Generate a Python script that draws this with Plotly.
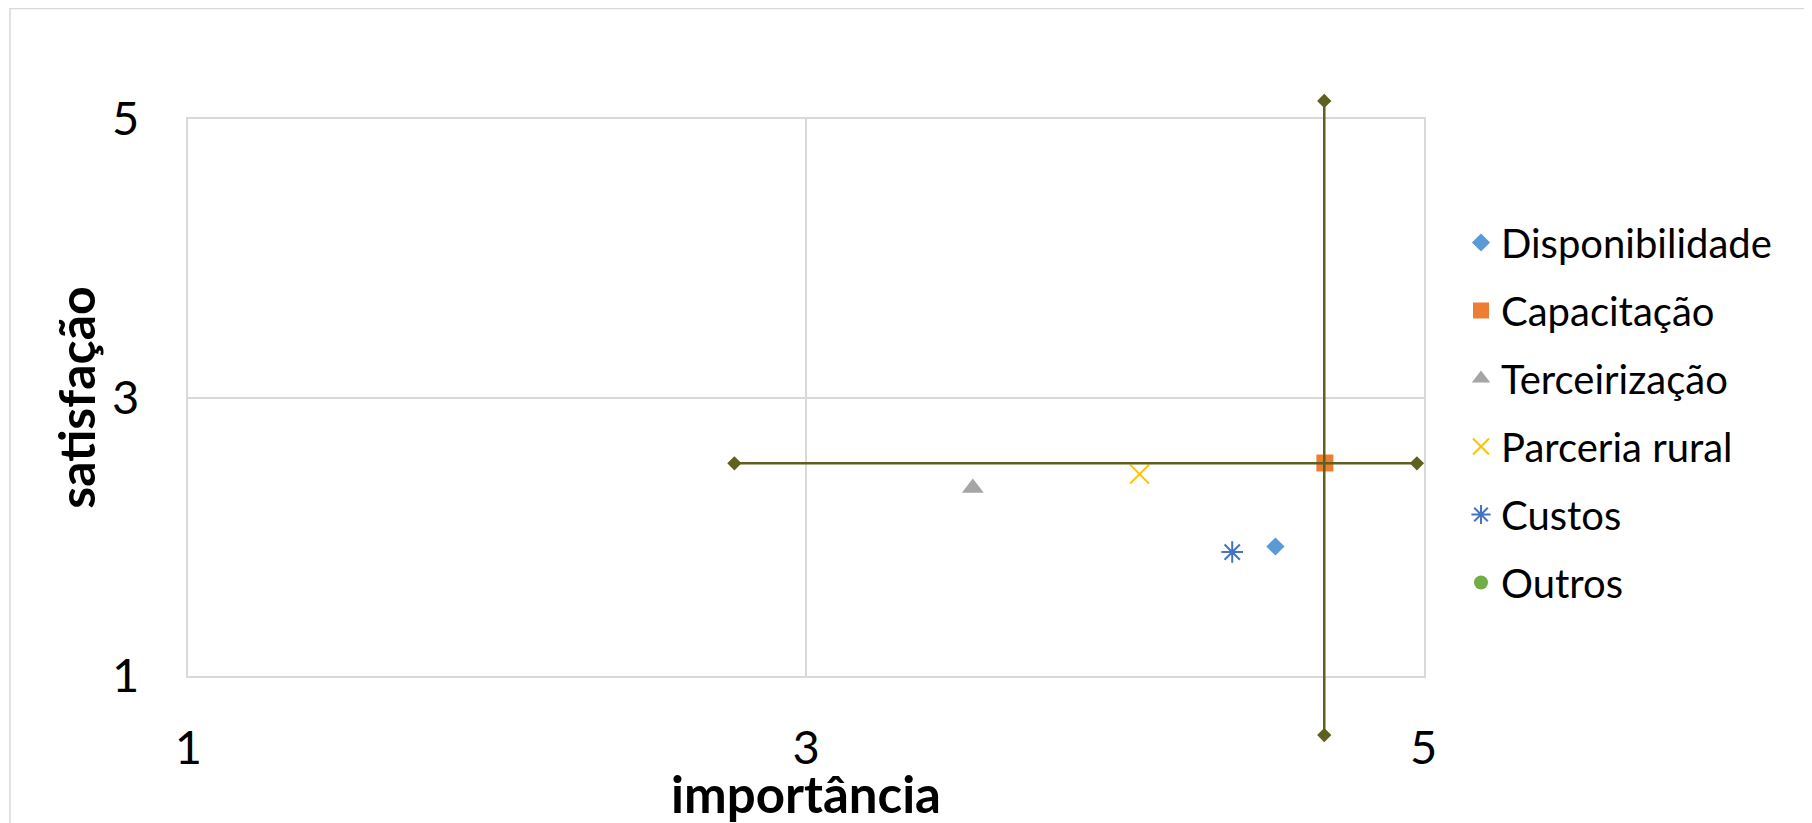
import plotly.graph_objects as go

# ---- data ----
series_names = ["Disponibilidade", "Capacitação", "Terceirização", "Parceria rural", "Custos", "Outros"]
importancia = [4.52, 4.68, 3.54, 4.08, 4.38, None]
satisfacao = [1.93, 2.53, 2.35, 2.45, 1.89, None]

# mean/reference cross lines (horizontal then vertical)
cross_h_x = [2.768, 4.978]
cross_h_y = [2.527, 2.527]
cross_v_x = [4.678, 4.678]
cross_v_y = [0.576, 5.13]

axis_ticks = [1, 3, 5]
axis_min, axis_max = 1, 5
x_title = "importância"
y_title = "satisfação"

# ---- styles ----
colors = ["#5B9BD5", "#ED7D31", "#A5A5A5", "#FFC000", "#4472C4", "#70AD47"]
symbols = ["diamond", "square", "triangle-up", "x-thin-open", "asterisk-open", "circle"]
sizes = [14, 17, 19, 19, 18, 14]
cross_color = "#5E6020"
grid_color = "#D9D9D9"
FONT = "Lato"

W, H = 1812, 823
OFF = 8  # page body margin offset
# plot area in pixels
pl, pr, pt, pb = 188.4 - OFF, 1423.7 - OFF, 119.0 - OFF, 676.0 - OFF
xdom = [pl / W, pr / W]
ydom = [1 - pb / H, 1 - pt / H]
# extended y-axis for the cross lines (same pixel scale, full height)
units_per_frac = (axis_max - axis_min) / (ydom[1] - ydom[0])
y2_range = [axis_min - ydom[0] * units_per_frac, axis_max + (1 - ydom[1]) * units_per_frac]

fig = go.Figure()

for i, name in enumerate(series_names):
    open_sym = symbols[i].endswith("open")
    fig.add_trace(go.Scatter(
        x=[importancia[i]], y=[satisfacao[i]], name=name, mode="markers",
        legendgroup=name,
        marker=dict(symbol=symbols[i], size=sizes[i], color=colors[i],
                    line=dict(width=2 if open_sym else 0, color=colors[i])),
        xaxis="x", yaxis="y",
    ))

fig.add_trace(go.Scatter(
    x=cross_h_x + [None] + cross_v_x, y=cross_h_y + [None] + cross_v_y,
    mode="lines+markers", showlegend=False, cliponaxis=False,
    line=dict(color=cross_color, width=2.5),
    marker=dict(symbol="diamond", size=11, color=cross_color),
    xaxis="x2", yaxis="y2", hoverinfo="skip",
))

fig.update_layout(
    width=W, height=H,
    margin=dict(l=0, r=0, t=0, b=0, autoexpand=False),
    paper_bgcolor="white", plot_bgcolor="rgba(0,0,0,0)",
    font=dict(family=FONT, color="black"),
    xaxis=dict(domain=xdom, range=[axis_min, axis_max], tickvals=axis_ticks,
               automargin=False,
               showgrid=True, gridcolor=grid_color, gridwidth=1.5,
               showline=True, mirror=True, linecolor=grid_color, linewidth=1.5,
               zeroline=False, ticks="", ticklabelstandoff=30,
               tickfont=dict(size=47, family=FONT),
               anchor="y"),
    yaxis=dict(domain=ydom, range=[axis_min, axis_max], tickvals=axis_ticks,
               automargin=False,
               showgrid=True, gridcolor=grid_color, gridwidth=1.5,
               showline=True, mirror=True, linecolor=grid_color, linewidth=1.5,
               zeroline=False, ticks="", ticklabelstandoff=38,
               tickfont=dict(size=47, family=FONT),
               title=dict(text="<b>" + y_title + "</b>", font=dict(size=50, family=FONT), standoff=0),
               anchor="x"),
    xaxis2=dict(domain=xdom, range=[axis_min, axis_max], visible=False, automargin=False,
                showgrid=False, zeroline=False, anchor="y2"),
    yaxis2=dict(domain=[0, 1], range=y2_range, visible=False, automargin=False,
                showgrid=False, zeroline=False, anchor="x2"),
    legend=dict(x=(1461 - OFF) / W, y=1 - (210 - OFF) / H, xanchor="left", yanchor="top",
                font=dict(size=40, family=FONT), tracegroupgap=13,
                bgcolor="rgba(0,0,0,0)"),
    annotations=[dict(text="<b>" + x_title + "</b>", xref="paper", yref="paper",
                      x=(xdom[0] + xdom[1]) / 2, y=1 - (793 - OFF) / H,
                      xanchor="center", yanchor="middle", showarrow=False,
                      font=dict(size=51, family=FONT, color="black"))],
    shapes=[dict(type="rect", xref="paper", yref="paper",
                 x0=2 / W, x1=(1806 - OFF) / W, y0=-0.05, y1=1 - 0.5 / H,
                 line=dict(color=grid_color, width=1.5), layer="below")],
    showlegend=True,
)

fig.write_html("out.html")
